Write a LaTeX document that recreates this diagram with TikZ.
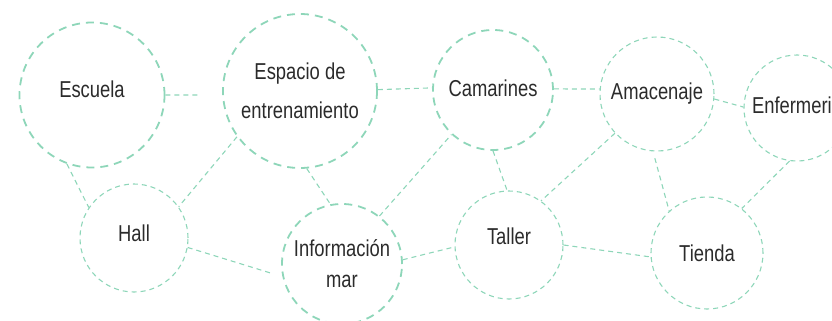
\documentclass[tikz,border=0pt]{standalone}
\usepackage{fontspec}
\setmainfont[FakeStretch=0.8]{Liberation Sans}
\definecolor{mint}{HTML}{8ED6B9}
\definecolor{ink}{HTML}{2B2B2B}
\begin{document}
\begin{tikzpicture}[x=1pt, y=-1pt,
		every node/.style={align=center, draw=mint, circle, inner sep=0pt, text=ink, font=\fontsize{23}{31}\selectfont},
		big/.style={line width=1.8pt, dash pattern=on 8pt off 6pt},
		small/.style={line width=1.1pt, dash pattern=on 5pt off 4pt},
		link/.style={draw=mint, line width=1.1pt, dash pattern=on 5pt off 4pt},
	]
	\useasboundingbox (0,0) rectangle (832,321);
	\clip (0,0) rectangle (832,321);

	\node[big, minimum size=145pt, text height=17pt, text depth=13pt] (esc) at (92,95) {Escuela};
	\node[big, minimum size=154pt] (esp) at (300,91)  {Espacio de\\[8pt]entrenamiento};
	\node[small, minimum size=108pt, text height=17pt, text depth=11pt] (hall) at (134,238) {Hall};
	\node[big, minimum size=120pt] (inf) at (342,264) {Información\\mar};
	\node[big, minimum size=120pt, text height=17pt, text depth=5pt] (cam) at (493,90) {Camarines};
	\node[small, minimum size=108pt, text height=17pt, text depth=19pt] (tal) at (509,245) {Taller};
	\node[small, minimum size=114pt, text height=17pt, text depth=7pt] (ama) at (657,94) {Amacenaje};
	\node[small, minimum size=112pt, text height=17pt, text depth=1pt] (tie) at (707,253) {Tienda};
	\node[small, minimum size=106pt, text height=17pt, text depth=7pt] (enf) at (797,108) {Enfermeria};

	\draw[link, shorten >=23pt] (esc.0) -- (esp.183);
	\draw[link] (esc.250) -- (hall.146);
	\draw[link] (esp.216) -- (hall.35);
	\draw[link] (esp.275) -- (inf.101);
	\draw[link, shorten >=10pt] (hall.350) -- (inf.192);
	\draw[link] (esp.1) -- (cam.178);
	\draw[link] (inf.52) -- (cam.227);
	\draw[link] (inf.4) -- (tal.182);
	\draw[link] (cam.1) -- (ama.175);
	\draw[link] (cam.270) -- (tal.92);
	\draw[link] (ama.223) -- (tal.54);
	\draw[link] (ama.355) -- (enf.179);
	\draw[link, shorten <=7pt] (ama.266) -- (tie.132);
	\draw[link] (tal.0) -- (tie.184);
	\draw[link] (enf.262) -- (tie.52);
\end{tikzpicture}
\end{document}
